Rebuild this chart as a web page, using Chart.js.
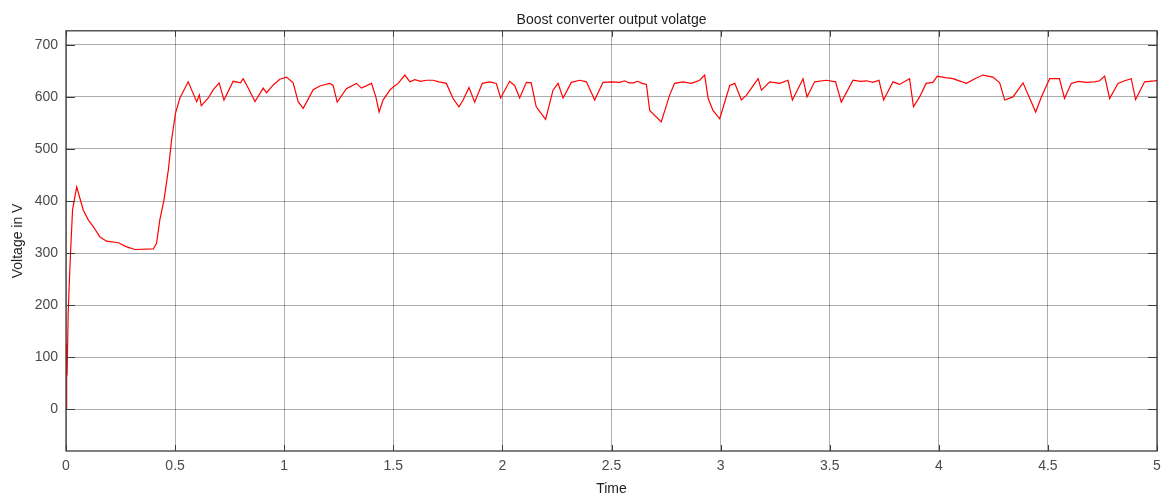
<!DOCTYPE html>
<html>
<head>
<meta charset="utf-8">
<script src="https://cdn.jsdelivr.net/npm/chart.js@4"></script>
<style>
  html, body { margin: 0; padding: 0; background: #ffffff; }
  #wrap { width: 1161px; height: 498px; }
</style>
</head>
<body>
<div id="wrap"><canvas id="chart" width="1161" height="498"></canvas></div>
<script>
// time (s)
const times = [
  0, 0.003, 0.005, 0.01, 0.015, 0.02, 0.03, 0.049, 0.079, 0.102, 0.125, 0.156, 0.186, 0.24, 0.278, 0.316,
  0.4, 0.415, 0.43, 0.449, 0.469, 0.484, 0.502, 0.522, 0.56, 0.599, 0.611, 0.62, 0.652, 0.675, 0.702,
  0.724, 0.766, 0.8, 0.812, 0.835, 0.866, 0.904, 0.919, 0.95, 0.98, 1.011, 1.041, 1.064, 1.087, 1.133,
  1.163, 1.209, 1.224, 1.243, 1.285, 1.331, 1.354, 1.4, 1.42, 1.435, 1.453, 1.484, 1.5, 1.522, 1.553,
  1.576, 1.598, 1.625, 1.652, 1.682, 1.71, 1.743, 1.774, 1.801, 1.82, 1.847, 1.873, 1.908, 1.942, 1.972, 1.992,
  2.033, 2.056, 2.079, 2.11, 2.132, 2.155, 2.198, 2.232, 2.255, 2.278, 2.316, 2.354, 2.385, 2.423,
  2.461, 2.499, 2.537, 2.56, 2.58, 2.6, 2.62, 2.64, 2.66, 2.675, 2.728, 2.766, 2.789, 2.827, 2.866, 2.904, 2.927, 2.943, 2.965,
  2.996, 3.042, 3.065, 3.095, 3.118, 3.172, 3.187, 3.225, 3.271, 3.309, 3.329, 3.378, 3.396, 3.431,
  3.485, 3.527, 3.553, 3.607, 3.64, 3.67, 3.698, 3.726, 3.747, 3.79, 3.82, 3.866, 3.884, 3.912, 3.942, 3.973,
  3.993, 4.03, 4.065, 4.1, 4.126, 4.17, 4.202, 4.248, 4.279, 4.302, 4.34, 4.386, 4.444, 4.47, 4.508, 4.553, 4.576,
  4.607, 4.64, 4.675, 4.714, 4.737, 4.76, 4.783, 4.821, 4.852, 4.882, 4.902, 4.943, 4.989, 5
];

// output voltage (V)
const volts = [
  0, 125, 65, 184, 242, 293, 383, 427, 383, 364, 351, 331, 323, 320, 312, 307,
  308, 319, 364, 402, 460, 518, 569, 598, 629, 591, 604, 583, 598, 614, 627,
  594, 630, 627, 635, 617, 591, 617, 608, 623, 634, 638, 627, 591, 578, 614,
  621, 626, 622, 590, 616, 626, 617, 626, 600, 571, 594, 613, 619, 626, 642,
  629, 633, 630, 632, 632, 629, 626, 597, 581, 594, 618, 590, 626, 629, 626, 598,
  630, 622, 598, 628, 627, 581, 557, 613, 626, 598, 628, 632, 629, 594,
  628, 629, 628, 631, 627, 627, 630, 626, 624, 574, 552, 603, 626, 629, 626, 632, 642, 597, 574,
  558, 622, 626, 594, 603, 635, 613, 629, 626, 632, 594, 635, 600, 629,
  632, 629, 590, 632, 630, 631, 628, 632, 594, 629, 624, 635, 581, 600, 626, 628,
  640, 637, 635, 630, 626, 636, 642, 638, 627, 594, 600, 627, 571, 600, 635, 635, 597,
  626, 630, 628, 629, 631, 640, 597, 626, 631, 635, 595, 629, 631, 632
];

const xTicks = [0, 0.5, 1, 1.5, 2, 2.5, 3, 3.5, 4, 4.5, 5];
const yTicks = [0, 100, 200, 300, 400, 500, 600, 700];

const FONT = "'Liberation Sans', Arial, Helvetica, sans-serif";

// full box + small inward tick marks, like the original plot frame
const framePlugin = {
  id: "frame",
  afterDraw(chart) {
    const { ctx, chartArea: a, scales } = chart;
    ctx.save();
    ctx.strokeStyle = "#3c3c3c";
    ctx.lineWidth = 1;
    ctx.beginPath();
    xTicks.forEach((t) => {
      const x = Math.round(scales.x.getPixelForValue(t)) + 0.5;
      ctx.moveTo(x, a.bottom); ctx.lineTo(x, a.bottom - 6);
      ctx.moveTo(x, a.top); ctx.lineTo(x, a.top + 6);
    });
    yTicks.forEach((v) => {
      const y = Math.round(scales.y.getPixelForValue(v)) + 0.5;
      ctx.moveTo(a.left, y); ctx.lineTo(a.left + 9, y);
      ctx.moveTo(a.right, y); ctx.lineTo(a.right - 9, y);
    });
    ctx.stroke();
    ctx.lineWidth = 1.3;
    ctx.strokeRect(a.left, a.top, a.right - a.left, a.bottom - a.top);
    ctx.restore();
  }
};

new Chart(document.getElementById("chart"), {
  type: "line",
  data: {
    datasets: [{
      data: times.map((t, i) => ({ x: t, y: volts[i] })),
      borderColor: "#ff0000",
      borderWidth: 1.2,
      pointRadius: 0,
      tension: 0,
      fill: false
    }]
  },
  options: {
    responsive: false,
    animation: false,
    layout: { padding: { left: 0, right: 4, top: 0, bottom: 0 } },
    plugins: {
      legend: { display: false },
      tooltip: { enabled: false },
      title: {
        display: true,
        fullSize: false,
        text: "Boost converter output volatge",
        color: "#1e1e1e",
        font: { family: FONT, size: 14, weight: "normal" },
        padding: { top: 12, bottom: 2 }
      }
    },
    scales: {
      x: {
        type: "linear",
        min: 0,
        max: 5,
        afterBuildTicks: (s) => { s.ticks = xTicks.map((v) => ({ value: v })); },
        afterFit: (s) => { s.height = 47; s.paddingRight = 0; s.paddingLeft = 0; },
        ticks: {
          color: "#4a4a4a",
          font: { family: FONT, size: 14 },
          padding: 7,
          maxRotation: 0,
          callback: (v) => String(v)
        },
        grid: { color: "rgba(0,0,0,0.32)", drawTicks: false },
        border: { display: false },
        title: {
          display: true,
          text: "Time",
          color: "#1e1e1e",
          font: { family: FONT, size: 14 },
          padding: { top: 2, bottom: 0 }
        }
      },
      y: {
        min: -80,
        max: 727,
        afterBuildTicks: (s) => { s.ticks = yTicks.map((v) => ({ value: v })); },
        afterFit: (s) => { s.width = 66; },
        ticks: { color: "#4a4a4a", font: { family: FONT, size: 14 }, padding: 8 },
        grid: { color: "rgba(0,0,0,0.32)", drawTicks: false },
        border: { display: false },
        title: {
          display: true,
          text: "Voltage in V",
          color: "#1e1e1e",
          font: { family: FONT, size: 14 },
          padding: { top: 10, bottom: 0 }
        }
      }
    }
  },
  plugins: [framePlugin]
});
</script>
</body>
</html>
